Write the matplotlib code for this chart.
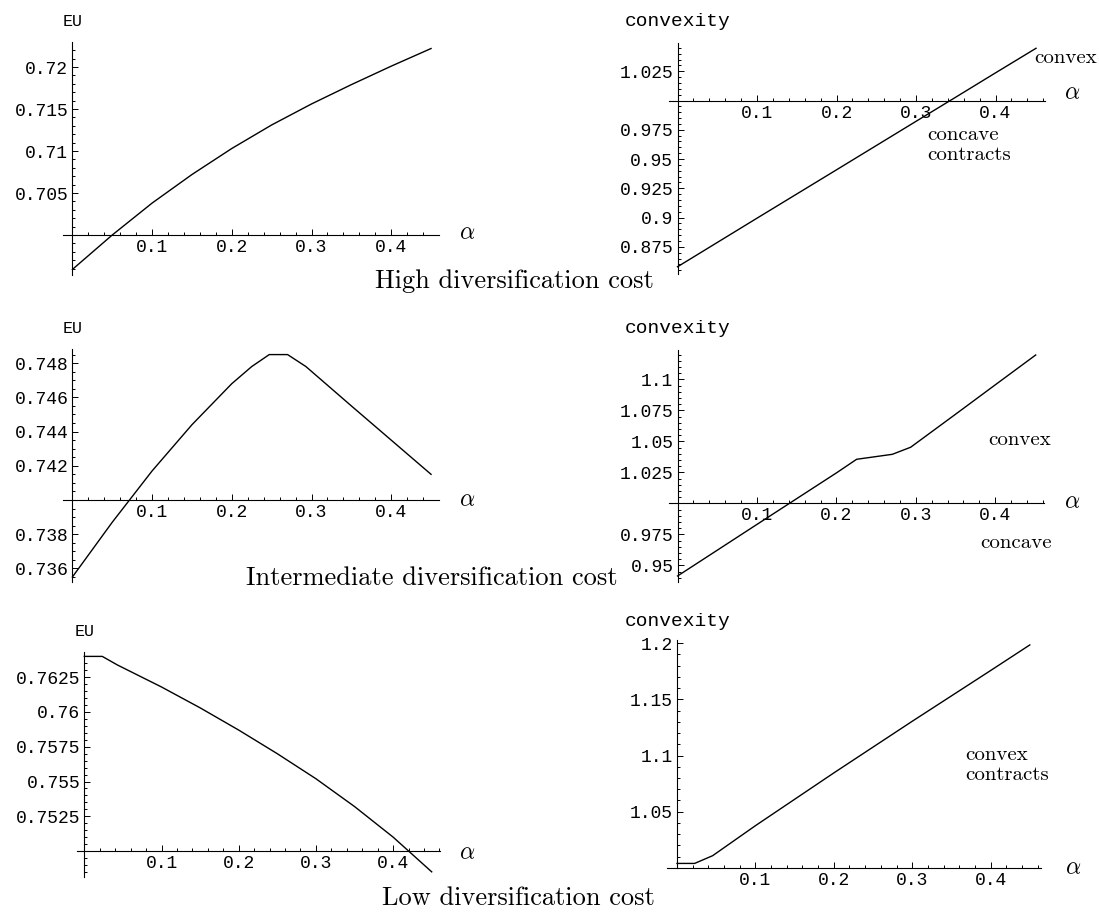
import matplotlib
matplotlib.use("Agg")
import matplotlib.pyplot as plt
from matplotlib.ticker import AutoMinorLocator

plt.rcParams['font.family'] = ['Liberation Mono', 'DejaVu Sans']
plt.rcParams['mathtext.fontset'] = 'cm'

# High diversification cost
alpha_high_eu = [0, 0.05, 0.1, 0.15, 0.2, 0.25, 0.3, 0.35, 0.4, 0.45]
eu_high = [0.6959, 0.7000, 0.7038, 0.7072, 0.7103, 0.7131, 0.7156, 0.7179, 0.7201, 0.7222]
alpha_high_cv = [0, 0.1, 0.2, 0.3, 0.347, 0.4, 0.451]
cv_high = [0.858, 0.8995, 0.9408, 0.9822, 1.0016, 1.0236, 1.0446]

# Intermediate diversification cost
alpha_mid_eu = [0, 0.05, 0.1, 0.15, 0.2, 0.225, 0.247, 0.27, 0.293, 0.35, 0.4, 0.45]
eu_mid = [0.7355, 0.7387, 0.7417, 0.7444, 0.7468, 0.7478, 0.7485, 0.7485, 0.7478, 0.7455, 0.7435, 0.7415]
alpha_mid_cv = [0, 0.1, 0.2, 0.2255, 0.2704, 0.2935, 0.35, 0.4, 0.451]
cv_mid = [0.9414, 0.9830, 1.0245, 1.0355, 1.0395, 1.0452, 1.0718, 1.0955, 1.1196]

# Low diversification cost
alpha_low_eu = [0, 0.0233, 0.043, 0.1, 0.15, 0.2, 0.25, 0.3, 0.35, 0.4, 0.45]
eu_low = [0.7640, 0.7640, 0.76338, 0.7618, 0.7603, 0.7587, 0.7570, 0.7552, 0.7532, 0.7510, 0.7485]
alpha_low_cv = [0, 0.0225, 0.0455, 0.1, 0.2, 0.3, 0.4, 0.45]
cv_low = [1.0039, 1.0039, 1.0108, 1.0375, 1.0845, 1.1305, 1.1757, 1.1985]

x_ticks = [0.1, 0.2, 0.3, 0.4]
x_labels = ['0.1', '0.2', '0.3', '0.4']
y_ticks_high_eu = [0.705, 0.71, 0.715, 0.72]
y_labels_high_eu = ['0.705', '0.71', '0.715', '0.72']
y_ticks_high_cv = [0.875, 0.9, 0.925, 0.95, 0.975, 1.025]
y_labels_high_cv = ['0.875', '0.9', '0.925', '0.95', '0.975', '1.025']
y_ticks_mid_eu = [0.736, 0.738, 0.742, 0.744, 0.746, 0.748]
y_labels_mid_eu = ['0.736', '0.738', '0.742', '0.744', '0.746', '0.748']
y_ticks_mid_cv = [0.95, 0.975, 1.025, 1.05, 1.075, 1.1]
y_labels_mid_cv = ['0.95', '0.975', '1.025', '1.05', '1.075', '1.1']
y_ticks_low_eu = [0.7525, 0.755, 0.7575, 0.76, 0.7625]
y_labels_low_eu = ['0.7525', '0.755', '0.7575', '0.76', '0.7625']
y_ticks_low_cv = [1.05, 1.1, 1.15, 1.2]
y_labels_low_cv = ['1.05', '1.1', '1.15', '1.2']

W, H = 1099, 916
fig = plt.figure(figsize=(W / 100, H / 100), dpi=100)


def panel(x0, xs, yc, yval, ys, xlim, ylim, xdata, ydata, yt, yl, nminor):
    # x0/yc: pixel position of the axes crossing, xs/ys: pixels per unit
    left = x0 + xlim[0] * xs
    right = x0 + xlim[1] * xs
    top = yc - (ylim[1] - yval) * ys
    bottom = yc + (yval - ylim[0]) * ys
    ax = fig.add_axes([left / W, 1 - bottom / H, (right - left) / W, (bottom - top) / H])
    ax.patch.set_visible(False)
    ax.set_xlim(xlim)
    ax.set_ylim(ylim)
    ax.plot(xdata, ydata, color='black', lw=1.0, clip_on=False)
    for s in ['top', 'right']:
        ax.spines[s].set_visible(False)
    ax.spines['left'].set_position(('data', 0))
    ax.spines['bottom'].set_position(('data', yval))
    ax.spines['left'].set_linewidth(0.8)
    ax.spines['bottom'].set_linewidth(0.8)
    ax.set_xticks(x_ticks)
    ax.set_xticklabels(x_labels, fontsize=13)
    ax.set_yticks(yt)
    ax.set_yticklabels(yl, fontsize=13)
    ax.xaxis.set_minor_locator(AutoMinorLocator(5))
    ax.yaxis.set_minor_locator(AutoMinorLocator(nminor))
    ax.tick_params(which='both', direction='in', width=0.7)
    ax.tick_params(which='major', length=4)
    ax.tick_params(which='minor', length=2.2)
    ax.tick_params(axis='x', pad=3)
    ax.tick_params(axis='y', pad=3)
    return ax


def ftext(x, y, s, **kw):
    fig.text(x / W, 1 - y / H, s, **kw)


panel(72.4, 797, 235, 0.70, 8400, (-0.0115, 0.4595), (0.69524, 0.72294),
      alpha_high_eu, eu_high, y_ticks_high_eu, y_labels_high_eu, 5)
panel(677.5, 795, 100.5, 1.0, 1171, (-0.0103, 0.462), (0.8518, 1.0488),
      alpha_high_cv, cv_high, y_ticks_high_cv, y_labels_high_cv, 5)
panel(72.4, 797, 500, 0.74, 17108, (-0.0115, 0.4595), (0.73522, 0.74881),
      alpha_mid_eu, eu_mid, y_ticks_mid_eu, y_labels_mid_eu, 4)
panel(677.6, 794, 503.3, 1.0, 1240, (-0.0105, 0.4615), (0.9368, 1.1236),
      alpha_mid_cv, cv_mid, y_ticks_mid_cv, y_labels_mid_cv, 5)
panel(84.3, 772, 851, 0.75, 13900, (-0.0101, 0.4613), (0.74815, 0.76434),
      alpha_low_eu, eu_low, y_ticks_low_eu, y_labels_low_eu, 5)
panel(677, 784, 867.8, 1.0, 1122.7, (-0.0122, 0.4637), (1.0, 1.2029),
      alpha_low_cv, cv_low, y_ticks_low_cv, y_labels_low_cv, 5)

# axis labels
for x, y in [(72.8, 22), (72.8, 329), (84.5, 632)]:
    ftext(x, y, 'EU', fontsize=12, ha='center', va='center')
for x, y in [(678, 22), (678, 329), (678, 621)]:
    ftext(x, y, 'convexity', fontsize=14, ha='center', va='center')
for x, y in [(466.7, 233), (1072, 93), (466.7, 500), (1072.6, 501.7), (466.7, 853), (1072.8, 868)]:
    ftext(x, y, r'$\alpha$', fontsize=17, ha='center', va='center')

# annotations
serif = dict(family='cmr10', fontsize=15, ha='left', va='center')
ftext(1034, 58, 'convex', **serif)
ftext(927, 135, 'concave', **serif)
ftext(927, 155, 'contracts', **serif)
ftext(988, 440, 'convex', **serif)
ftext(980, 543, 'concave', **serif)
ftext(965, 755, 'convex', **serif)
ftext(965, 775, 'contracts', **serif)

cap = dict(family='cmr10', fontsize=19, ha='center', va='center')
ftext(514.5, 281, 'High diversification cost', **cap)
ftext(431.7, 578, 'Intermediate diversification cost', **cap)
ftext(518, 898, 'Low diversification cost', **cap)

fig.savefig('out.png', dpi=100)
